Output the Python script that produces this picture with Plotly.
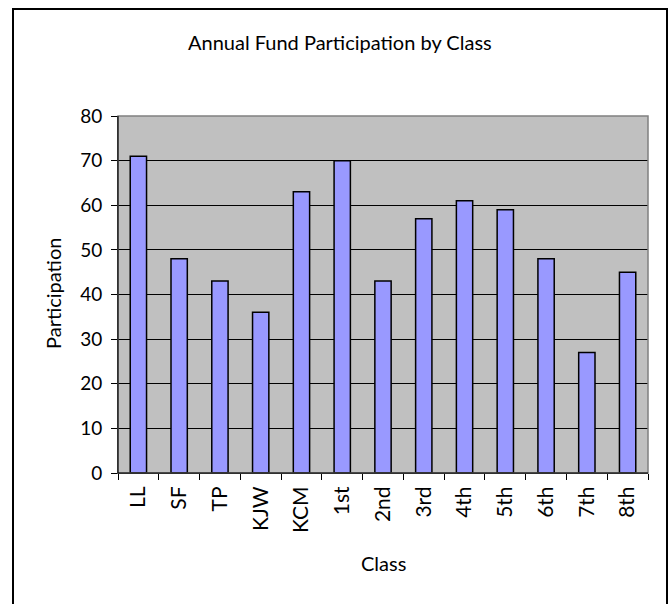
import plotly.graph_objects as go

categories = ["LL", "SF", "TP", "KJW", "KCM", "1st", "2nd", "3rd", "4th", "5th", "6th", "7th", "8th"]
participation = [71, 48, 43, 36, 63, 70, 43, 57, 61, 59, 48, 27, 45]
y_ticks = [0, 10, 20, 30, 40, 50, 60, 70, 80]

FONT = "Lato, 'Open Sans', sans-serif"

W, H = 672, 604
L, R, T, B = 118, 648, 116, 473
pw, ph = R - L, B - T

def px(x):
    return (x - L) / pw

def py(y):
    return (B - y) / ph

fig = go.Figure(go.Bar(
    x=categories, y=participation,
    marker=dict(color="#9999FF", line=dict(color="black", width=1.5)),
    width=0.4,
))

fig.update_layout(
    width=W, height=H,
    margin=dict(l=L, r=W - R, t=T, b=H - B, pad=0),
    paper_bgcolor="white", plot_bgcolor="#C0C0C0",
    showlegend=False,
    font=dict(family=FONT, size=19, color="black"),
    xaxis=dict(
        type="category", showgrid=False, showline=True, linecolor="black", linewidth=1,
        ticks="outside", tickson="boundaries", ticklen=6, tickcolor="black",
        tickangle=-90, tickfont=dict(size=21), range=[-0.5, 12.5], ticklabelstandoff=4,
    ),
    yaxis=dict(
        range=[0, 80], tickvals=y_ticks, showgrid=True, gridcolor="black", gridwidth=1,
        showline=True, linecolor="black", linewidth=1, ticks="outside", ticklen=6,
        tickcolor="black", tickfont=dict(size=19), zeroline=False, ticklabelstandoff=5,
    ),
    shapes=[
        dict(type="rect", xref="paper", yref="paper", x0=0, x1=1, y0=0, y1=1,
             line=dict(color="#808080", width=1.5), layer="above"),
        dict(type="line", xref="paper", yref="paper", x0=0, x1=0, y0=0, y1=1,
             line=dict(color="black", width=1), layer="above"),
        dict(type="line", xref="paper", yref="paper", x0=0, x1=1, y0=0, y1=0,
             line=dict(color="black", width=1), layer="above"),
        dict(type="rect", xref="paper", yref="paper", x0=px(13), x1=px(667), y0=py(620), y1=py(9),
             line=dict(color="black", width=2)),
    ],
    annotations=[
        dict(text="Annual Fund Participation by Class", xref="paper", yref="paper",
             x=px(340), y=py(42), showarrow=False, font=dict(size=20), xanchor="center", yanchor="middle"),
        dict(text="Participation", xref="paper", yref="paper", x=px(53), y=py(294),
             showarrow=False, textangle=-90, font=dict(size=20), xanchor="center", yanchor="middle"),
        dict(text="Class", xref="paper", yref="paper", x=px(383), y=py(563),
             showarrow=False, font=dict(size=20), xanchor="center", yanchor="middle"),
    ],
)

fig.write_html(
    "out.html",
    config={"displayModeBar": False},
    post_script="document.body.style.margin='0';document.documentElement.style.overflow='hidden';document.body.style.overflow='hidden';",
)
